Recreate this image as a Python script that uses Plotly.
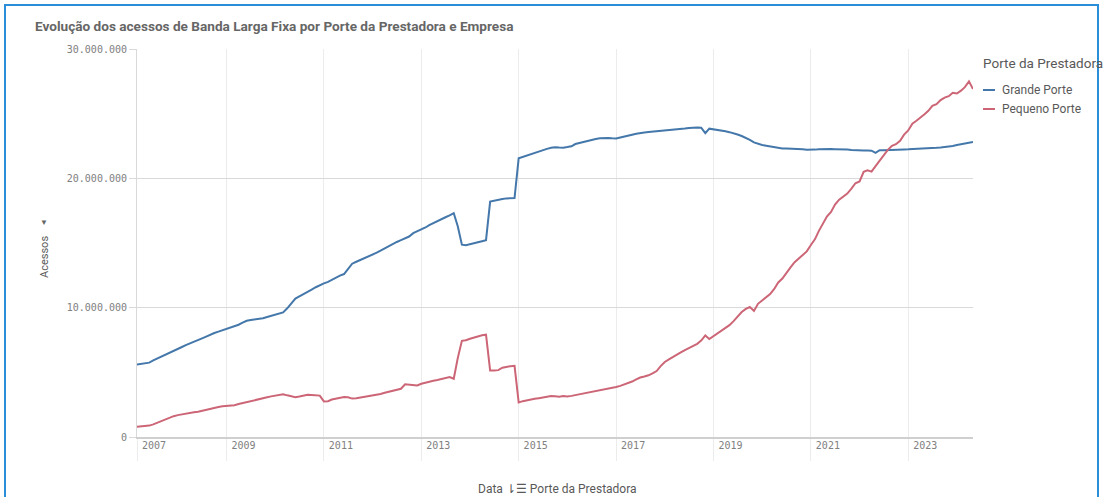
import pandas as pd
import plotly.graph_objects as go

# monthly series, Mar 2007 .. May 2024 (values in millions of accesses)
start_month = "2007-03-01"

grande_porte = [
    5.60, 5.64, 5.69, 5.75, 5.92, 6.08, 6.22, 6.38, 6.53, 6.67, 6.82, 6.96,
    7.10, 7.22, 7.33, 7.46, 7.62, 7.76, 7.92, 8.04, 8.15, 8.26, 8.35, 8.44,
    8.53, 8.68, 8.84, 8.99, 9.04, 9.07, 9.11, 9.18, 9.28, 9.36, 9.45, 9.54,
    9.63, 9.95, 10.35, 10.70, 10.87, 11.03, 11.21, 11.40, 11.58, 11.76, 11.88, 11.99,
    12.16, 12.32, 12.48, 12.60, 13.00, 13.40, 13.55, 13.68, 13.83, 13.97, 14.11, 14.25,
    14.41, 14.59, 14.76, 14.92, 15.08, 15.22, 15.36, 15.50, 15.76, 15.90, 16.03, 16.20,
    16.38, 16.55, 16.72, 16.86, 16.99, 17.13, 17.31, 16.30, 14.87, 14.83, 14.89, 14.98,
    15.06, 15.14, 15.22, 18.20, 18.28, 18.34, 18.40, 18.45, 18.46, 18.47, 21.55, 21.66,
    21.77, 21.87, 21.98, 22.08, 22.19, 22.28, 22.36, 22.40, 22.38, 22.37, 22.42, 22.48,
    22.65, 22.73, 22.82, 22.92, 22.99, 23.04, 23.09, 23.12, 23.11, 23.09, 23.08, 23.16,
    23.24, 23.30, 23.37, 23.44, 23.51, 23.55, 23.58, 23.61, 23.63, 23.65, 23.66, 23.70,
    23.74, 23.77, 23.81, 23.85, 23.90, 23.93, 23.93, 23.92, 23.49, 23.84, 23.80, 23.75,
    23.70, 23.64, 23.57, 23.49, 23.39, 23.27, 23.14, 22.98, 22.78, 22.66, 22.58, 22.52,
    22.46, 22.40, 22.33, 22.30, 22.30, 22.30, 22.30, 22.29, 22.25, 22.21, 22.19, 22.22,
    22.25, 22.27, 22.26, 22.26, 22.25, 22.25, 22.25, 22.22, 22.19, 22.16, 22.15, 22.15,
    22.15, 22.14, 21.97, 22.17, 22.18, 22.18, 22.19, 22.19, 22.21, 22.23, 22.24, 22.25,
    22.26, 22.28, 22.29, 22.30, 22.33, 22.36, 22.39, 22.42, 22.45, 22.50, 22.57, 22.64,
    22.70, 22.76, 22.81,
]

pequeno_porte = [
    0.80, 0.82, 0.85, 0.88, 0.98, 1.11, 1.25, 1.37, 1.49, 1.61, 1.69, 1.76,
    1.83, 1.87, 1.91, 1.96, 2.04, 2.12, 2.21, 2.28, 2.32, 2.37, 2.40, 2.43,
    2.46, 2.55, 2.63, 2.72, 2.79, 2.86, 2.93, 3.00, 3.07, 3.14, 3.21, 3.27,
    3.31, 3.22, 3.13, 3.08, 3.13, 3.20, 3.27, 3.25, 3.22, 3.20, 2.75, 2.77,
    2.90, 2.98, 3.03, 3.10, 3.07, 2.97, 3.00, 3.05, 3.10, 3.15, 3.20, 3.24,
    3.32, 3.42, 3.51, 3.59, 3.66, 3.73, 4.07, 4.05, 4.01, 3.99, 4.12, 4.22,
    4.30, 4.35, 4.41, 4.47, 4.56, 4.63, 4.50, 6.10, 7.44, 7.48, 7.60, 7.70,
    7.79, 7.86, 7.91, 5.14, 5.14, 5.17, 5.36, 5.43, 5.48, 5.50, 2.67, 2.77,
    2.84, 2.88, 2.95, 3.00, 3.06, 3.12, 3.17, 3.15, 3.12, 3.17, 3.13, 3.18,
    3.24, 3.30, 3.36, 3.42, 3.48, 3.55, 3.60, 3.65, 3.70, 3.77, 3.86, 3.95,
    4.05, 4.15, 4.29, 4.45, 4.60, 4.68, 4.77, 4.92, 5.10, 5.48, 5.80, 6.00,
    6.19, 6.37, 6.54, 6.72, 6.88, 7.03, 7.20, 7.45, 7.85, 7.58, 7.80, 8.00,
    8.20, 8.37, 8.65, 8.96, 9.32, 9.66, 9.90, 10.05, 9.75, 10.30, 10.55, 10.78,
    11.05, 11.45, 11.95, 12.25, 12.72, 13.12, 13.52, 13.82, 14.08, 14.35, 14.85, 15.30,
    15.92, 16.55, 17.05, 17.40, 17.97, 18.35, 18.58, 18.82, 19.20, 19.62, 19.76, 20.50,
    20.62, 20.52, 20.95, 21.38, 21.80, 22.20, 22.52, 22.64, 22.90, 23.38, 23.70, 24.22,
    24.43, 24.65, 24.93, 25.22, 25.60, 25.74, 26.05, 26.24, 26.35, 26.62, 26.56, 26.78,
    27.05, 27.50, 26.90,
]

series_names = ["Grande Porte", "Pequeno Porte"]
series_colors = ["#4477aa", "#cc6677"]

year_ticks = ["2007", "2009", "2011", "2013", "2015", "2017", "2019", "2021", "2023"]
y_ticks = [0, 10_000_000, 20_000_000, 30_000_000]

dates = pd.date_range(start_month, periods=len(grande_porte), freq="MS")

W, H = 1103, 497
L, R, T, B = 137, 973, 49, 437


def px(x):
    return (x - L) / (R - L)


def py(y):
    return (B - y) / (B - T)


fig = go.Figure()
for name, vals, color in zip(series_names, [grande_porte, pequeno_porte], series_colors):
    fig.add_trace(go.Scatter(
        x=dates, y=[v * 1e6 for v in vals], mode="lines", name=name,
        line=dict(color=color, width=2), showlegend=False,
    ))

tickvals = [dates[0]] + [pd.Timestamp(f"{y}-01-01") for y in year_ticks[1:]]

fig.update_layout(
    width=W, height=H,
    margin=dict(l=L, r=W - R, t=T, b=H - B),
    paper_bgcolor="white", plot_bgcolor="white",
    separators=",.",
    font=dict(family="Roboto, sans-serif", color="#595959"),
    xaxis=dict(
        range=[dates[0], dates[-1]],
        tickvals=tickvals, ticktext=year_ticks,
        showgrid=True, gridcolor="#ececec", gridwidth=1,
        ticks="outside", ticklen=22, tickcolor="#ececec",
        ticklabelshift=17, ticklabelstandoff=-24,
        tickfont=dict(family="DejaVu Sans Mono", size=10, color="#808080"),
        showline=True, linecolor="#cfcfcf", linewidth=2,
        zeroline=False,
    ),
    yaxis=dict(
        range=[0, 30_000_000],
        tickvals=y_ticks, tickformat=",d",
        showgrid=True, gridcolor="#d9d9d9", gridwidth=1,
        ticks="outside", ticklen=7, tickcolor="#d9d9d9",
        tickfont=dict(family="DejaVu Sans Mono", size=10, color="#808080"),
        showline=True, linecolor="#d9d9d9", linewidth=1,
        zeroline=False,
    ),
)

annotations = [
    dict(x=px(33), y=py(26), text="<b>Evolução dos acessos de Banda Larga Fixa por Porte da Prestadora e Empresa</b>",
         xanchor="left", yanchor="middle", font=dict(size=13.6, color="#666666")),
    dict(x=px(44), y=py(257), text="Acessos", textangle=-90,
         xanchor="center", yanchor="middle", font=dict(size=11, color="#595959")),
    dict(x=px(44), y=py(222), text="▼", xanchor="center", yanchor="middle",
         font=dict(size=8, color="#666666")),
    dict(x=px(981), y=py(63), text="Porte da Prestadora", xanchor="left", yanchor="middle",
         font=dict(size=13.5, color="#595959")),
    dict(x=px(557), y=py(489), text="Data ⇂☰ Porte da Prestadora", xanchor="center", yanchor="middle",
         font=dict(size=12, color="#595959")),
]
shapes = [
    dict(type="rect", xref="paper", yref="paper", x0=px(5), x1=px(1098), y0=py(525), y1=py(5),
         line=dict(color="#2a8fd8", width=2), layer="above"),
]
for i, (name, color) in enumerate(zip(series_names, series_colors)):
    yy = 90 + i * 19
    shapes.append(dict(type="line", xref="paper", yref="paper", x0=px(983), x1=px(995),
                       y0=py(yy), y1=py(yy), line=dict(color=color, width=2)))
    annotations.append(dict(x=px(1000), y=py(yy), text=name, xanchor="left", yanchor="middle",
                            font=dict(size=12, color="#595959")))

fig.update_layout(annotations=[dict(a, xref="paper", yref="paper", showarrow=False) for a in annotations],
                  shapes=shapes)

# the page's default body margin would push the figure 8px off the window
fig.write_html("out.html", config={"displayModeBar": False},
               post_script="document.body.style.margin='0';")
